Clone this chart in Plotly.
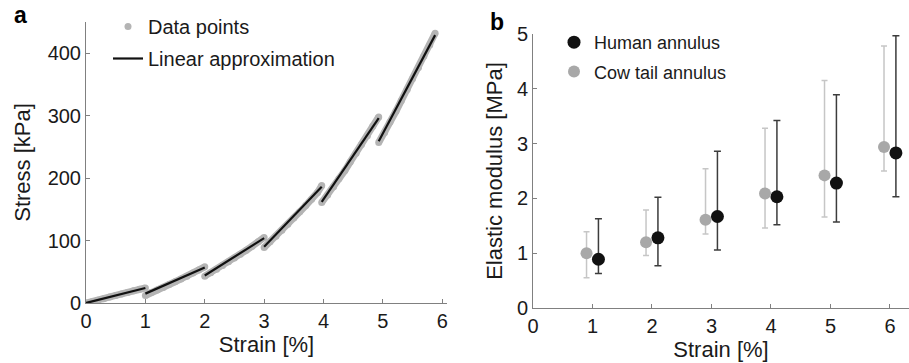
import plotly.graph_objects as go

# ---- Panel a: stress–strain data (stepwise relaxation) ----
seg_strain = [
    [0.0, 0.1, 0.2, 0.3, 0.4, 0.5, 0.6, 0.7, 0.8, 0.9, 1.0],
    [1.0, 1.1, 1.2, 1.3, 1.4, 1.5, 1.6, 1.7, 1.8, 1.9, 2.0],
    [2.0, 2.1, 2.2, 2.3, 2.4, 2.5, 2.6, 2.7, 2.8, 2.9, 3.0],
    [3.0, 3.1, 3.2, 3.3, 3.4, 3.5, 3.6, 3.7, 3.8, 3.9, 3.97],
    [3.97, 4.07, 4.17, 4.26, 4.36, 4.45, 4.55, 4.64, 4.74, 4.83, 4.93],
    [4.93, 5.03, 5.12, 5.22, 5.31, 5.41, 5.5, 5.6, 5.69, 5.79, 5.88],
]
seg_stress = [
    [0, 2, 4.5, 7, 9.5, 12, 14.5, 17, 19.5, 22, 24],
    [12, 17, 21, 25, 29.5, 34, 38.5, 43, 48, 53, 58],
    [43, 48.5, 54, 60, 66, 72, 78, 84.5, 91, 98, 105],
    [89, 98, 107, 116.5, 126, 136, 146, 156, 166, 177, 188],
    [161, 173, 186, 199, 212, 226, 240, 254, 268, 283, 298],
    [257, 273, 290, 307, 324, 342, 359, 377, 395, 413, 432],
]
lin_strain = [0, 1, None, 1, 2, None, 2, 3, None, 3, 3.97, None, 3.97, 4.93, None, 4.93, 5.88]
lin_stress = [0, 24, None, 15, 57, None, 44, 104, None, 90, 186, None, 162, 296, None, 259, 429]

# ---- Panel b: elastic modulus ----
strain_levels = [1, 2, 3, 4, 5, 6]
human_mean = [0.89, 1.28, 1.67, 2.03, 2.28, 2.83]
human_upper = [1.63, 2.02, 2.86, 3.42, 3.89, 4.97]
human_lower = [0.63, 0.77, 1.06, 1.52, 1.57, 2.03]
cow_mean = [1.00, 1.20, 1.61, 2.09, 2.42, 2.94]
cow_upper = [1.39, 1.79, 2.54, 3.28, 4.15, 4.78]
cow_lower = [0.55, 0.96, 1.35, 1.46, 1.66, 2.50]

FONT = "Liberation Sans, Arial, sans-serif"
AXC = "#808080"
TXT = "#1a1a1a"
GRAY_PTS = "#b4b4b4"

fig = go.Figure()

# dense data drawn as a band (segments separated by gaps) + the point markers
band_x, band_y, data_x, data_y = [], [], [], []
for sx, sy in zip(seg_strain, seg_stress):
    band_x += sx + [None]
    band_y += sy + [None]
    data_x += sx
    data_y += sy

fig.add_trace(go.Scatter(
    x=band_x, y=band_y, mode="lines", line=dict(color=GRAY_PTS, width=7),
    showlegend=False, hoverinfo="skip", xaxis="x", yaxis="y", connectgaps=False))
fig.add_trace(go.Scatter(
    x=data_x, y=data_y, mode="markers", name="Data points",
    marker=dict(color=GRAY_PTS, size=7), xaxis="x", yaxis="y",
    legend="legend", legendgroup="g1"))
fig.add_trace(go.Scatter(
    x=lin_strain, y=lin_stress, mode="lines", name="Linear approximation",
    line=dict(color="#111111", width=2.2), xaxis="x", yaxis="y",
    legend="legend", legendgroup="g2", connectgaps=False))

off = 0.1
fig.add_trace(go.Scatter(
    x=[s + off for s in strain_levels], y=human_mean, mode="markers",
    name="Human annulus",
    marker=dict(color="#111111", size=13),
    error_y=dict(type="data", symmetric=False,
                 array=[u - m for u, m in zip(human_upper, human_mean)],
                 arrayminus=[m - l for m, l in zip(human_mean, human_lower)],
                 color="#3c3c3c", thickness=1.5, width=3.5),
    xaxis="x2", yaxis="y2", legend="legend2", legendgroup="h1"))
fig.add_trace(go.Scatter(
    x=[s - off for s in strain_levels], y=cow_mean, mode="markers",
    name="Cow tail annulus",
    marker=dict(color="#a8a8a8", size=12),
    error_y=dict(type="data", symmetric=False,
                 array=[u - m for u, m in zip(cow_upper, cow_mean)],
                 arrayminus=[m - l for m, l in zip(cow_mean, cow_lower)],
                 color="#c6c6c6", thickness=1.5, width=3),
    xaxis="x2", yaxis="y2", legend="legend2", legendgroup="h2"))

W, H = 909, 363
def dx(px):
    return px / W
def dy(py):
    return 1 - py / H

axis_common = dict(showline=True, linecolor=AXC, linewidth=1, ticks="inside",
                   ticklen=4, tickcolor=AXC, showgrid=False, zeroline=False,
                   automargin=False,
                   tickfont=dict(size=20, color=TXT, family=FONT))

fig.update_layout(
    width=W, height=H, margin=dict(l=0, r=0, t=0, b=0, autoexpand=False),
    paper_bgcolor="white", plot_bgcolor="white",
    font=dict(family=FONT, color=TXT),
    xaxis=dict(domain=[dx(86), dx(447)], range=[0, 6.08], tickvals=[0, 1, 2, 3, 4, 5, 6],
               title=dict(text="Strain [%]", font=dict(size=22), standoff=5),
               anchor="y", **axis_common),
    yaxis=dict(domain=[dy(303), dy(22)], range=[0, 450], tickvals=[0, 100, 200, 300, 400],
               title=dict(text="Stress [kPa]", font=dict(size=22), standoff=10),
               anchor="x", **axis_common),
    xaxis2=dict(domain=[dx(533), 1.0], range=[0, 6.32], tickvals=[0, 1, 2, 3, 4, 5, 6],
                title=dict(text="Strain [%]", font=dict(size=22), standoff=5),
                anchor="y2", **axis_common),
    yaxis2=dict(domain=[dy(308), dy(34)], range=[0, 5], tickvals=[0, 1, 2, 3, 4, 5],
                title=dict(text="Elastic modulus [MPa]", font=dict(size=22), standoff=8),
                anchor="x2", **axis_common),
    legend=dict(x=dx(108), y=dy(7), xanchor="left", yanchor="top",
                bgcolor="rgba(0,0,0,0)", font=dict(size=20, color=TXT),
                tracegroupgap=3, itemsizing="trace"),
    legend2=dict(x=dx(554), y=dy(24), xanchor="left", yanchor="top",
                 bgcolor="rgba(0,0,0,0)", font=dict(size=18, color=TXT),
                 tracegroupgap=3, itemsizing="trace"),
    showlegend=True,
    annotations=[
        dict(text="<b>a</b>", x=dx(20), y=dy(15), xref="paper", yref="paper",
             xanchor="center", yanchor="middle",
             showarrow=False, font=dict(size=23, color="#000")),
        dict(text="<b>b</b>", x=dx(497), y=dy(22), xref="paper", yref="paper",
             xanchor="center", yanchor="middle",
             showarrow=False, font=dict(size=23, color="#000")),
    ],
)

fig.write_html("out.html", config={"displayModeBar": False},
               post_script="document.body.style.margin='0';")
